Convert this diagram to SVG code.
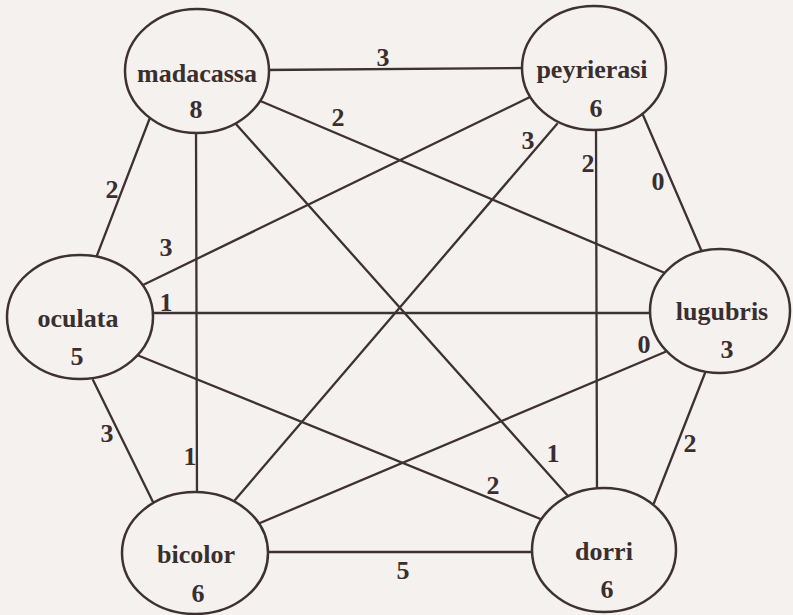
<svg xmlns="http://www.w3.org/2000/svg" width="793" height="615" viewBox="0 0 793 615">
<style>
.bg{fill:#f5f1ef}
.edge{stroke:#3e3131;stroke-width:2.3;fill:none;stroke-linecap:round}
.node{fill:#f5f1ef;stroke:#3e3131;stroke-width:2.5}
text{font-family:"Liberation Serif","Times New Roman",serif;font-weight:bold;font-size:26px;fill:#3a2e2e;text-anchor:middle}
</style>
<rect class="bg" x="0" y="0" width="793" height="615"/>
<g id="connectors">
<line class="edge" x1="262" y1="70" x2="530" y2="68"/>
<line class="edge" x1="151" y1="115" x2="96" y2="258"/>
<line class="edge" x1="196" y1="125" x2="197" y2="497"/>
<line class="edge" x1="258" y1="100" x2="665" y2="273"/>
<line class="edge" x1="235" y1="123" x2="568" y2="496"/>
<line class="edge" x1="143" y1="285" x2="530" y2="97"/>
<line class="edge" x1="557" y1="124" x2="235" y2="500"/>
<line class="edge" x1="596" y1="125" x2="597" y2="492"/>
<line class="edge" x1="643" y1="115" x2="702" y2="252"/>
<line class="edge" x1="148" y1="313" x2="655" y2="313"/>
<line class="edge" x1="137" y1="355" x2="543" y2="520"/>
<line class="edge" x1="93" y1="380" x2="153" y2="502"/>
<line class="edge" x1="665" y1="352" x2="260" y2="523"/>
<line class="edge" x1="705" y1="373" x2="654" y2="503"/>
<line class="edge" x1="262" y1="552" x2="536" y2="552"/>
<text x="383" y="66">3</text>
<text x="112" y="198">2</text>
<text x="190" y="465">1</text>
<text x="338" y="126">2</text>
<text x="553" y="462">1</text>
<text x="166" y="256">3</text>
<text x="528" y="149">3</text>
<text x="588" y="172">2</text>
<text x="658" y="190">0</text>
<text x="166" y="311">1</text>
<text x="493" y="494">2</text>
<text x="107" y="442">3</text>
<text x="644" y="353">0</text>
<text x="690" y="452">2</text>
<text x="403" y="579">5</text>
</g>
<g id="madacassa">
<ellipse class="node" cx="197" cy="71" rx="72" ry="62"/>
<text x="197" y="82">madacassa</text>
<text x="196" y="118">8</text>
</g>
<g id="peyrierasi">
<ellipse class="node" cx="594" cy="68" rx="72" ry="62"/>
<text x="592" y="78">peyrierasi</text>
<text x="596" y="117">6</text>
</g>
<g id="oculata">
<ellipse class="node" cx="80" cy="317" rx="73" ry="62"/>
<text x="78" y="327">oculata</text>
<text x="77" y="365">5</text>
</g>
<g id="lugubris">
<ellipse class="node" cx="720" cy="311" rx="70" ry="62"/>
<text x="722" y="320">lugubris</text>
<text x="727" y="358">3</text>
</g>
<g id="bicolor">
<ellipse class="node" cx="195" cy="553" rx="73" ry="61"/>
<text x="196" y="563">bicolor</text>
<text x="198" y="602">6</text>
</g>
<g id="dorri">
<ellipse class="node" cx="604" cy="550" rx="72" ry="62"/>
<text x="604" y="560">dorri</text>
<text x="607" y="598">6</text>
</g>
</svg>
